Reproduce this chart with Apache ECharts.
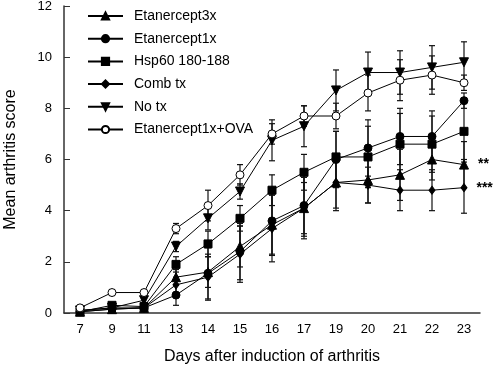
<!DOCTYPE html>
<html>
<head>
<meta charset="utf-8">
<script src="https://cdn.jsdelivr.net/npm/echarts@6/dist/echarts.min.js"></script>
<style>
html,body{margin:0;padding:0;background:#fff}
#chart{width:498px;height:366px}
</style>
</head>
<body>
<div id="chart"></div>
<script>
var days = ['7', '9', '11', '13', '14', '15', '16', '17', '19', '20', '21', '22', '23'];

var etan3x = [0.05, 0.15, 0.2, 1.4, 1.6, 2.6, 3.45, 4.1, 5.1, 5.2, 5.4, 6.0, 5.8];
var etan3xErr = [0.05, 0.1, 0.1, 0.3, 0.6, 0.8, 1.2, 1.0, 1.0, 0.9, 1.0, 0.8, 0.9];
var etan1x = [0.05, 0.15, 0.2, 0.7, 1.55, 2.4, 3.6, 4.2, 6.0, 6.45, 6.9, 6.9, 8.3];
var etan1xErr = [0.05, 0.1, 0.1, 0.4, 1.0, 1.1, 1.3, 1.2, 1.1, 1.1, 1.1, 1.0, 0.3];
var hsp60 = [0.05, 0.3, 0.25, 1.9, 2.7, 3.7, 4.8, 5.5, 6.1, 6.1, 6.6, 6.6, 7.1];
var hsp60Err = [0.05, 0.1, 0.1, 0.3, 0.5, 0.5, 0.6, 0.7, 1.0, 1.2, 1.2, 1.1, 1.1];
var combTx = [0.1, 0.2, 0.2, 1.1, 1.4, 2.3, 3.3, 4.1, 5.1, 5.0, 4.8, 4.8, 4.9];
var combTxErr = [0.05, 0.1, 0.1, 0.3, 0.9, 1.1, 1.3, 1.2, 1.1, 0.7, 0.8, 0.8, 1.0];
var noTx = [0.1, 0.2, 0.5, 2.6, 3.7, 4.75, 6.75, 7.3, 8.7, 9.4, 9.4, 9.6, 9.8];
var noTxErr = [0.05, 0.1, 0.1, 0.2, 0.45, 0.3, 0.8, 0.8, 0.8, 0.8, 0.85, 0.85, 0.8];
var etanOva = [0.2, 0.8, 0.8, 3.3, 4.2, 5.4, 7.0, 7.7, 7.7, 8.6, 9.1, 9.3, 9.0];
var etanOvaErr = [0.05, 0.1, 0.05, 0.2, 0.6, 0.4, 0.4, 0.4, 0.5, 0.7, 0.8, 0.75, 0.3];

var font = 'Liberation Sans, Arial, sans-serif';

var groups = [
    {name: 'Etanercept3x', data: etan3x, err: etan3xErr, symbol: 'triangle', size: 9, rotate: 0, fill: '#000', mark: '**'},
    {name: 'Etanercept1x', data: etan1x, err: etan1xErr, symbol: 'circle', size: 8, rotate: 0, fill: '#000'},
    {name: 'Hsp60 180-188', data: hsp60, err: hsp60Err, symbol: 'rect', size: 8, rotate: 0, fill: '#000'},
    {name: 'Comb tx', data: combTx, err: combTxErr, symbol: 'diamond', size: [6, 8], rotate: 0, fill: '#000', mark: '***'},
    {name: 'No tx', data: noTx, err: noTxErr, symbol: 'triangle', size: 9, rotate: 180, fill: '#000'},
    {name: 'Etanercept1x+OVA', data: etanOva, err: etanOvaErr, symbol: 'circle', size: 8, rotate: 0, fill: '#fff'}
];

function errItem(params, api) {
    var x = api.value(0);
    var lo = api.coord([x, api.value(1)]);
    var hi = api.coord([x, api.value(2)]);
    var w = 3;
    var st = {stroke: '#111', lineWidth: 1.2};
    return {
        type: 'group',
        children: [
            {type: 'line', shape: {x1: lo[0], y1: lo[1], x2: hi[0], y2: hi[1]}, style: st},
            {type: 'line', shape: {x1: lo[0] - w, y1: lo[1], x2: lo[0] + w, y2: lo[1]}, style: st},
            {type: 'line', shape: {x1: hi[0] - w, y1: hi[1], x2: hi[0] + w, y2: hi[1]}, style: st}
        ]
    };
}

var series = [];
// error bars first so the markers sit on top
for (var i = 0; i < groups.length; i++) {
    var g = groups[i];
    var errData = [];
    for (var j = 0; j < g.data.length; j++) {
        errData.push([j, Math.max(0, g.data[j] - g.err[j]), g.data[j] + g.err[j]]);
    }
    series.push({
        name: g.name + ' err',
        type: 'custom',
        renderItem: errItem,
        encode: {x: 0, y: [1, 2]},
        data: errData,
        z: 1,
        silent: true
    });
}
for (var i = 0; i < groups.length; i++) {
    var g = groups[i];
    var lineData = g.data.map(function (v, k, arr) {
        if (g.mark && k == arr.length - 1) {
            return {
                value: v,
                label: {show: true, formatter: g.mark, position: 'right', distance: 9,
                    color: '#000', fontSize: 14, fontWeight: 'bold', fontFamily: font}
            };
        }
        return v;
    });
    series.push({
        name: g.name,
        type: 'line',
        data: lineData,
        symbol: g.symbol,
        symbolSize: g.size,
        symbolRotate: g.rotate,
        showAllSymbol: true,
        lineStyle: {color: '#000', width: 1},
        itemStyle: {color: g.fill, borderColor: '#000', borderWidth: 1},
        z: 3
    });
}

var myChart = echarts.init(document.getElementById('chart'));
var option = {
    animation: false,
    backgroundColor: '#fff',
    grid: {left: 64, right: 18, top: 6, bottom: 53, outerBoundsMode: 'none', containLabel: false},
    legend: {
        data: groups.map(function (g) { return g.name; }),
        orient: 'vertical',
        left: 82,
        top: 4,
        itemWidth: 35,
        itemHeight: 9,
        itemGap: 8.7,
        textStyle: {color: '#000', fontSize: 14, fontFamily: font, padding: [0, 0, 0, 6], lineHeight: 14}
    },
    xAxis: {
        type: 'category',
        data: days,
        boundaryGap: true,
        name: 'Days after induction of arthritis',
        nameLocation: 'middle',
        nameGap: 36,
        nameTextStyle: {color: '#000', fontSize: 16, fontFamily: font},
        axisLine: {lineStyle: {color: '#333', width: 1.5}},
        axisTick: {alignWithLabel: true, inside: true, length: 5, lineStyle: {color: '#333'}},
        axisLabel: {color: '#000', fontSize: 13, fontFamily: font, margin: 10},
        splitLine: {show: false}
    },
    yAxis: {
        type: 'value',
        min: 0,
        max: 12,
        interval: 2,
        name: 'Mean arthritis score',
        nameLocation: 'middle',
        nameGap: 45,
        nameTextStyle: {color: '#000', fontSize: 16, fontFamily: font},
        axisLine: {show: true, lineStyle: {color: '#333', width: 1.5}},
        axisTick: {show: true, inside: true, length: 6, lineStyle: {color: '#333'}},
        axisLabel: {color: '#000', fontSize: 13, fontFamily: font, margin: 12},
        splitLine: {show: false}
    },
    series: series
};
myChart.setOption(option, true);
</script>
</body>
</html>
